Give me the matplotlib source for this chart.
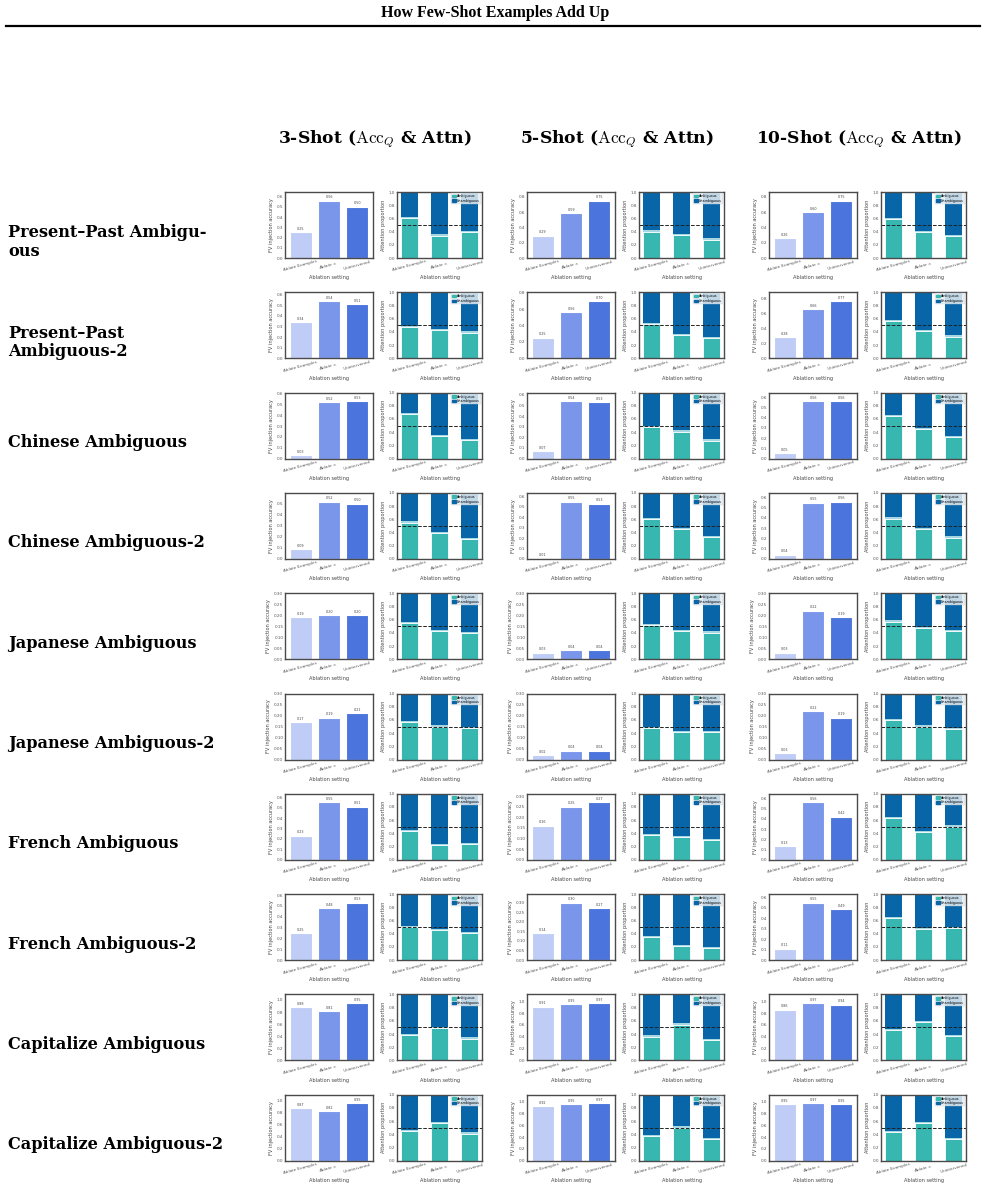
import matplotlib
matplotlib.use("Agg")
import matplotlib.pyplot as plt
from matplotlib.ticker import MaxNLocator
from matplotlib.lines import Line2D
from matplotlib.patches import Patch

plt.rcParams['mathtext.fontset'] = 'cm'

# ---------------- data ----------------
title = "How Few-Shot Examples Add Up"
shot_headers = ["3-Shot", "5-Shot", "10-Shot"]
row_labels = [
    "Present\u2013Past Ambigu-\nous",
    "Present\u2013Past\nAmbiguous-2",
    "Chinese Ambiguous",
    "Chinese Ambiguous-2",
    "Japanese Ambiguous",
    "Japanese Ambiguous-2",
    "French Ambiguous",
    "French Ambiguous-2",
    "Capitalize Ambiguous",
    "Capitalize Ambiguous-2",
]
settings = ["Ablate Examples", r"Ablate $x_i$", "Unintervened"]

acc_3shot = [
    [0.25, 0.56, 0.50],
    [0.34, 0.54, 0.51],
    [0.03, 0.52, 0.53],
    [0.09, 0.52, 0.50],
    [0.19, 0.20, 0.20],
    [0.17, 0.19, 0.21],
    [0.23, 0.55, 0.51],
    [0.25, 0.48, 0.53],
    [0.88, 0.81, 0.95],
    [0.87, 0.82, 0.95],
]
acc_5shot = [
    [0.29, 0.59, 0.75],
    [0.25, 0.56, 0.70],
    [0.07, 0.54, 0.53],
    [0.01, 0.55, 0.53],
    [0.03, 0.04, 0.04],
    [0.02, 0.04, 0.04],
    [0.16, 0.25, 0.27],
    [0.14, 0.30, 0.27],
    [0.91, 0.95, 0.97],
    [0.92, 0.95, 0.97],
]
acc_10shot = [
    [0.26, 0.60, 0.75],
    [0.28, 0.66, 0.77],
    [0.05, 0.56, 0.56],
    [0.04, 0.55, 0.56],
    [0.03, 0.22, 0.19],
    [0.03, 0.22, 0.19],
    [0.13, 0.56, 0.42],
    [0.11, 0.55, 0.49],
    [0.86, 0.97, 0.94],
    [0.95, 0.97, 0.95],
]

# attention proportion on ambiguous tokens (rest = unambiguous)
attn_3shot = [
    [0.60, 0.34, 0.39],
    [0.47, 0.43, 0.39],
    [0.67, 0.34, 0.28],
    [0.55, 0.39, 0.30],
    [0.55, 0.43, 0.39],
    [0.57, 0.50, 0.48],
    [0.43, 0.22, 0.24],
    [0.50, 0.45, 0.41],
    [0.38, 0.49, 0.33],
    [0.45, 0.57, 0.41],
]
attn_5shot = [
    [0.40, 0.35, 0.28],
    [0.52, 0.35, 0.31],
    [0.48, 0.41, 0.27],
    [0.60, 0.45, 0.33],
    [0.52, 0.42, 0.40],
    [0.48, 0.41, 0.41],
    [0.37, 0.34, 0.30],
    [0.35, 0.21, 0.18],
    [0.36, 0.54, 0.31],
    [0.37, 0.50, 0.33],
]
attn_10shot = [
    [0.59, 0.39, 0.33],
    [0.56, 0.41, 0.33],
    [0.64, 0.45, 0.32],
    [0.61, 0.45, 0.32],
    [0.57, 0.47, 0.43],
    [0.60, 0.50, 0.46],
    [0.63, 0.42, 0.50],
    [0.64, 0.47, 0.48],
    [0.46, 0.58, 0.37],
    [0.43, 0.57, 0.33],
]
attn_band = 0.02

acc_all = [acc_3shot, acc_5shot, acc_10shot]
attn_all = [attn_3shot, attn_5shot, attn_10shot]

# ---------------- style ----------------
bar_colors = ['#bfcdf6', '#7a96ea', '#4b74dc']
c_amb = '#38b7b1'
c_unamb = '#0866a8'
c_band = '#a6d6e2'
spine_c = '#4a4a4a'
tick_c = '#555555'

W, H = 985, 1198
fig = plt.figure(figsize=(W / 100, H / 100), dpi=100)

def ax_at(left, top, w, h):
    return fig.add_axes([left / W, 1 - (top + h) / H, w / W, h / H])

# title + rule
fig.text(0.503, 1 - 13 / H, title, ha='center', va='center',
         fontsize=11.5, fontweight='bold', family='Liberation Serif')
fig.add_artist(Line2D([6 / W, 980 / W], [1 - 26 / H, 1 - 26 / H],
                      color='black', lw=1.6, transform=fig.transFigure))

lab_font = 'DejaVu Serif'
for c, s in enumerate(shot_headers):
    fig.text((375 + 242 * c) / W, 1 - 139 / H,
             s + r" ($\mathrm{Acc}_Q$ & Attn)", ha='center', va='center',
             fontsize=12.3, family=lab_font, fontweight='bold')

row_top0, row_pitch, ax_h = 192, 100.3, 66
bar_left0, attn_left0, col_pitch = 285, 397, 242
bar_w, attn_w = 88, 85

def style_axes(ax):
    for sp in ax.spines.values():
        sp.set_color(spine_c)
        sp.set_linewidth(1.0)
    ax.tick_params(axis='both', length=0, pad=1.2, labelsize=3.0, colors=tick_c)
    ax.set_facecolor('white')

x = list(range(len(settings)))
for r, lab in enumerate(row_labels):
    top = row_top0 + row_pitch * r
    fig.text(8 / W, 1 - (top + 50) / H, lab, ha='left', va='center',
             fontsize=11.6, family=lab_font, fontweight='bold', linespacing=1.1)
    for c in range(3):
        # accuracy bar chart
        vals = acc_all[c][r]
        ymax = max(0.3, 1.15 * max(vals))
        ax = ax_at(bar_left0 + col_pitch * c, top, bar_w, ax_h)
        style_axes(ax)
        ax.bar(x, vals, width=0.78, color=bar_colors,
               edgecolor='white', linewidth=0.8)
        for xi, v in zip(x, vals):
            ax.text(xi, v + 0.02 * ymax, f"{v:.2f}",
                    ha='center', va='bottom', fontsize=2.4, color='#444444')
        ax.set_xlim(-0.55, 2.55)
        ax.set_ylim(0, ymax)
        ax.yaxis.set_major_locator(MaxNLocator(nbins=7, steps=[1, 2, 5, 10]))
        ax.set_xticks(x)
        ax.set_xticklabels(settings, rotation=15, ha='center')
        ax.set_ylabel("FV injection accuracy", fontsize=3.6, color='#444444', labelpad=2)
        ax.set_xlabel("Ablation setting", fontsize=3.6, color='#444444', labelpad=2)

        # attention stacked bar chart
        amb = attn_all[c][r]
        ax2 = ax_at(attn_left0 + col_pitch * c, top, attn_w, ax_h)
        style_axes(ax2)
        ax2.bar(x, amb, width=0.55, color=c_amb, edgecolor='white', linewidth=0.6)
        ax2.bar(x, [attn_band] * 3, bottom=amb, width=0.55, color=c_band,
                edgecolor='none')
        ax2.bar(x, [1 - a - attn_band for a in amb],
                bottom=[a + attn_band for a in amb], width=0.55, color=c_unamb,
                edgecolor='none')
        ax2.axhline(0.5, color='#222222', ls='--', lw=0.7)
        ax2.set_xlim(-0.42, 2.42)
        ax2.set_ylim(0, 1.0)
        ax2.set_yticks([0, 0.2, 0.4, 0.6, 0.8, 1.0])
        ax2.set_xticks(x)
        ax2.set_xticklabels(settings, rotation=15, ha='center')
        ax2.set_ylabel("Attention proportion", fontsize=3.6, color='#444444', labelpad=2)
        ax2.set_xlabel("Ablation setting", fontsize=3.6, color='#444444', labelpad=2)
        leg = ax2.legend(handles=[Patch(color=c_amb, label='Ambiguous'),
                                  Patch(color=c_unamb, label='Unambiguous')],
                         loc='upper right', fontsize=2.4, frameon=True,
                         handlelength=1.0, handleheight=0.8, borderpad=0.3,
                         labelspacing=0.2, handletextpad=0.4,
                         borderaxespad=0.3, fancybox=False)
        leg.get_frame().set_facecolor('#e4edf3')
        leg.get_frame().set_alpha(0.85)
        leg.get_frame().set_edgecolor('#cccccc')
        leg.get_frame().set_linewidth(0.3)

fig.savefig("out.png", dpi=100)
